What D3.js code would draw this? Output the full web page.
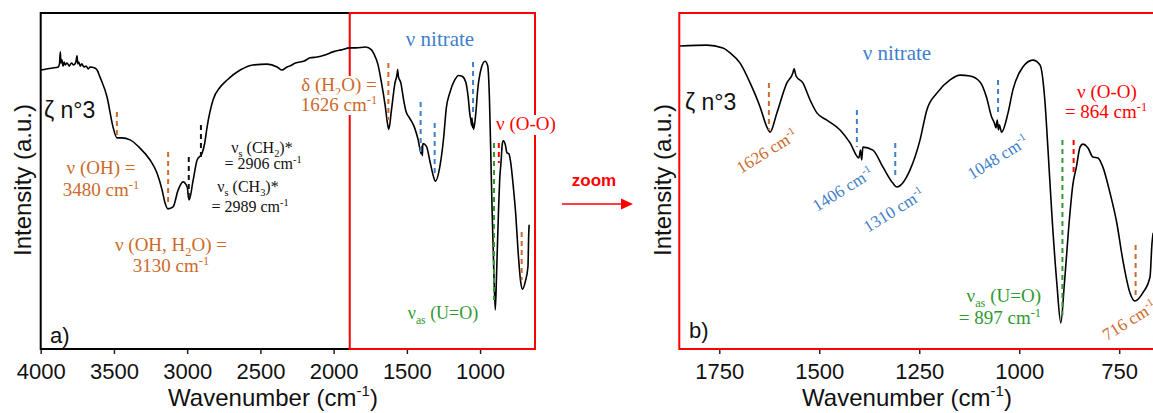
<!DOCTYPE html>
<html>
<head>
<meta charset="utf-8">
<script src="https://cdn.jsdelivr.net/npm/d3@7"></script>
<style>
  body { margin: 0; background: #fff; }
  svg { display: block; }
</style>
</head>
<body>
<div id="chart"></div>
<script>
// spectrum (wavenumber in cm-1, intensity in a.u.)
var wavenumber = [4000, 3960, 3920, 3880, 3872, 3866, 3862, 3855, 3848, 3840, 3832, 3820, 3805, 3790, 3775, 3760, 3752, 3747, 3740, 3730, 3720, 3705, 3690, 3675, 3663, 3630, 3615, 3595, 3547, 3506, 3479, 3445, 3390, 3322, 3253, 3206, 3171, 3151, 3131, 3096, 3062, 3028, 3000, 2987, 2959, 2932, 2898, 2880, 2864, 2823, 2774, 2727, 2638, 2550, 2454, 2386, 2352, 2318, 2300, 2260, 2200, 2160, 2113, 2060, 2004, 1950, 1887,
  1848, 1781, 1741, 1723, 1698, 1673, 1648, 1631, 1623, 1606, 1581, 1566, 1563, 1558, 1541, 1523, 1506, 1481, 1448, 1423, 1401, 1397, 1394, 1391, 1366, 1341, 1316, 1306, 1273, 1248, 1231, 1206, 1173, 1148, 1123, 1098, 1082, 1069, 1062, 1058, 1055, 1052, 1050, 1044, 1028, 1016, 991, 966, 948, 936, 928, 918, 906, 896, 887, 874, 866, 857, 848, 841, 828, 816, 803, 791, 773, 756, 741, 723, 711, 691, 673, 668, 665];
var intensity = [93.2, 93.6, 93.9, 94.3, 95.4, 99.6, 95.7, 96.8, 94.6, 96.0, 95.0, 95.7, 94.6, 95.7, 95.0, 96.0, 98.2, 95.4, 96.0, 94.6, 95.4, 94.3, 94.6, 93.6, 94.3, 93.9, 93.2, 90.7, 83.7, 73.1, 69.3, 69.3, 68.6, 65.7, 61.5, 56.9, 50.9, 46.4, 44.3, 45.0, 50.9, 53.8, 52.0, 47.4, 54.4, 61.5, 63.9, 67.5, 73.1, 82.7, 87.2, 89.7, 93.2, 95.0, 95.3, 94.3, 93.2, 94.3, 94.6, 95.7, 96.4, 97.5, 97.8, 98.5, 99.6, 100.3, 101.0,
  101.0, 101.3, 100.3, 98.7, 95.3, 88.7, 80.7, 74.0, 72.3, 78.7, 88.7, 92.0, 93.4, 91.0, 88.7, 83.0, 78.7, 76.3, 73.0, 68.7, 63.7, 66.3, 63.0, 67.3, 66.3, 60.7, 55.3, 54.0, 59.7, 69.7, 79.7, 85.3, 89.7, 91.3, 91.0, 89.0, 84.0, 77.3, 75.3, 73.7, 76.3, 73.0, 74.7, 72.3, 78.7, 86.3, 94.0, 96.3, 94.7, 83.0, 66.3, 44.0, 22.0, 8.7, 22.0, 44.0, 54.7, 60.7, 67.3, 68.3, 67.0, 64.0, 63.7, 60.7, 52.0, 42.0, 29.7, 18.7, 16.0, 18.7, 24.0, 35.3, 38.7];

var ticksLeft = [4000, 3500, 3000, 2500, 2000, 1500, 1000];
var ticksRight = [1750, 1500, 1250, 1000, 750];

var spectrum = wavenumber.map(function(w, i) { return { w: w, v: intensity[i] }; });

var W = 1153, H = 413;
var sans = "'Liberation Sans', Arial, sans-serif";
var serif = "'Liberation Serif', 'Times New Roman', serif";
var orange = "#cc6a2a", blue = "#3f7fcc", green = "#2f9a2f", red = "#ff0000";

var svg = d3.select("#chart").append("svg")
  .attr("width", W)
  .attr("height", H);

var plotTop = 13, plotBottom = 349;

// left panel a)
var xL = d3.scaleLinear().domain([4000, 625]).range([40.7, 535]);
var yL = d3.scaleLinear().domain([0, 113.3]).range([334.6, plotTop]);
// right panel b) zoom
var xR = d3.scaleLinear().domain([1850, 648]).range([679.3, 1160]);
var yR = d3.scaleLinear().domain([0, 112]).range([plotBottom, plotTop]);

var defs = svg.append("defs");
defs.append("clipPath").attr("id", "clipL").append("rect")
  .attr("x", xL.range()[0]).attr("y", plotTop).attr("width", xL.range()[1] - xL.range()[0]).attr("height", plotBottom - plotTop);
defs.append("clipPath").attr("id", "clipR").append("rect")
  .attr("x", xR.range()[0]).attr("y", plotTop).attr("width", xR.range()[1] - xR.range()[0]).attr("height", plotBottom - plotTop);

function drawAxis(x, ticks) {
  var g = svg.append("g")
    .attr("transform", "translate(0," + plotBottom + ")")
    .call(d3.axisBottom(x).tickValues(ticks).tickSize(5).tickPadding(9).tickFormat(d3.format("d")));
  g.select(".domain").remove();
  g.selectAll(".tick line").attr("stroke", "#222").attr("stroke-width", 1.5);
  g.selectAll(".tick text").attr("font-family", sans).attr("font-size", 22).attr("fill", "#111");
}
drawAxis(xL, ticksLeft);
drawAxis(xR, ticksRight);

// frames
var boxLeft = xL(1890);
svg.append("path")
  .attr("d", "M" + boxLeft + "," + plotTop + "H" + xL.range()[0] + "V" + plotBottom + "H" + boxLeft)
  .attr("fill", "none").attr("stroke", "#000").attr("stroke-width", 2);
svg.append("rect")
  .attr("x", boxLeft).attr("y", plotTop).attr("width", xL.range()[1] - boxLeft).attr("height", plotBottom - plotTop)
  .attr("fill", "none").attr("stroke", red).attr("stroke-width", 2);
svg.append("rect")
  .attr("x", xR.range()[0]).attr("y", plotTop).attr("width", 500).attr("height", plotBottom - plotTop)
  .attr("fill", "none").attr("stroke", red).attr("stroke-width", 2);

// axis titles
function title(x, y, rot, fs) {
  return svg.append("text")
    .attr("transform", "translate(" + x + "," + y + ")" + (rot ? " rotate(-90)" : ""))
    .attr("text-anchor", "middle")
    .attr("font-family", sans).attr("font-size", fs).attr("fill", "#111");
}
title(31, 180, true, 24).text("Intensity (a.u.)");
title(671, 180, true, 24).text("Intensity (a.u.)");
[273, 907].forEach(function(cx) {
  var t = title(cx, 406, false, 24);
  t.append("tspan").text("Wavenumber (cm");
  t.append("tspan").attr("dy", -10).attr("font-size", 15).text("-1");
  t.append("tspan").attr("dy", 10).text(")");
});

// rich text helper: parts are strings or [text, "sup"|"sub"]
function rich(parts, x, y, fs, color, anchor, family) {
  var t = svg.append("text")
    .attr("x", x).attr("y", y)
    .attr("font-family", family || serif).attr("font-size", fs)
    .attr("fill", color).attr("text-anchor", anchor || "middle");
  var shift = 0;
  parts.forEach(function(p) {
    var s = typeof p === "string" ? p : p[0];
    var kind = typeof p === "string" ? "" : p[1];
    var target = kind === "sup" ? -0.38 * fs : kind === "sub" ? 0.25 * fs : 0;
    var ts = t.append("tspan").text(s).attr("dy", target - shift);
    shift = target;
    if (kind) ts.attr("font-size", fs * 0.65);
  });
  return t;
}
function whiteBox(t) {
  var b = t.node().getBBox();
  svg.insert("rect", function() { return t.node(); })
    .attr("x", b.x - 1).attr("y", b.y + 2).attr("width", b.width + 2).attr("height", b.height - 2)
    .attr("fill", "#fff");
}

// labels crossing the red box get a white background
whiteBox(rich(["δ (H", ["2", "sub"], "O) ="], 339, 91, 19, orange));
whiteBox(rich(["1626 cm", ["-1", "sup"]], 339, 111, 19, orange));
whiteBox(rich(["ν (O-O)"], 526, 130, 19, red));

// spectra
var lineL = d3.line().x(function(d) { return xL(d.w); }).y(function(d) { return yL(d.v); }).curve(d3.curveMonotoneX);
var lineR = d3.line().x(function(d) { return xR(d.w); }).y(function(d) { return yR(d.v); }).curve(d3.curveMonotoneX);
svg.append("path").datum(spectrum).attr("clip-path", "url(#clipL)")
  .attr("d", lineL).attr("fill", "none").attr("stroke", "#000").attr("stroke-width", 1.6);
svg.append("path").datum(spectrum.filter(function(d) { return d.w <= 1860; })).attr("clip-path", "url(#clipR)")
  .attr("d", lineR).attr("fill", "none").attr("stroke", "#000").attr("stroke-width", 1.6);

// dashed peak markers
function mark(x, w, y1, y2, color) {
  svg.append("line")
    .attr("x1", x(w)).attr("x2", x(w)).attr("y1", y1).attr("y2", y2)
    .attr("stroke", color).attr("stroke-width", 2).attr("stroke-dasharray", "5,4");
}
mark(xL, 3480, 112, 137, orange);
mark(xL, 3130, 152, 203, orange);
mark(xL, 2989, 157, 200, "#111");
mark(xL, 2906, 125, 158, "#111");
mark(xL, 1626, 63, 120, orange);
mark(xL, 1406, 102, 153, blue);
mark(xL, 1310, 123, 177, blue);
mark(xL, 1048, 62, 112, blue);
mark(xL, 905, 143, 300, green);
mark(xL, 872, 143, 163, red);
mark(xL, 716, 232, 280, orange);

mark(xR, 1626, 83, 130, orange);
mark(xR, 1406, 110, 147, blue);
mark(xR, 1310, 143, 178, blue);
mark(xR, 1053, 80, 113, blue);
mark(xR, 892, 140, 315, green);
mark(xR, 864, 140, 176, red);
mark(xR, 709, 245, 297, orange);

// left panel annotations
rich(["ζ n°3"], 44, 118, 23, "#111", "start", sans);
rich(["a)"], 50, 343, 22, "#111", "start", sans);
rich(["ν (OH) ="], 101, 174, 19, orange);
rich(["3480 cm", ["-1", "sup"]], 101, 196, 19, orange);
rich(["ν (OH, H", ["2", "sub"], "O) ="], 171, 251, 19, orange);
rich(["3130 cm", ["-1", "sup"]], 171, 272, 19, orange);
rich(["ν", ["s", "sub"], " (CH", ["2", "sub"], ")*"], 262, 153, 16, "#111");
rich(["= 2906 cm", ["-1", "sup"]], 263, 169, 16, "#111");
rich(["ν", ["s", "sub"], " (CH", ["3", "sub"], ")*"], 248, 192, 16, "#111");
rich(["= 2989 cm", ["-1", "sup"]], 250, 212, 16, "#111");
rich(["ν nitrate"], 440, 46, 21, blue);
rich(["ν", ["as", "sub"], " (U=O)"], 443, 319, 18, green);

// zoom arrow
rich(["zoom"], 594, 186, 17, red, "middle", sans).attr("font-weight", "bold");
svg.append("line").attr("x1", 562).attr("x2", 622).attr("y1", 204).attr("y2", 204)
  .attr("stroke", red).attr("stroke-width", 1.5);
svg.append("path").attr("d", "M621,198.5 L633,204 L621,209.5 Z").attr("fill", red);

// right panel annotations
rich(["ζ n°3"], 685, 110, 23, "#111", "start", sans);
rich(["b)"], 689, 338, 22, "#111", "start", sans);
rich(["ν nitrate"], 897, 60, 21, blue);
rich(["ν (O-O)"], 1107, 98, 19, red);
rich(["= 864 cm", ["-1", "sup"]], 1106, 118, 19, red);
rich(["ν", ["as", "sub"], " (U=O)"], 1041, 302, 19, green, "end");
rich(["= 897 cm", ["-1", "sup"]], 1041, 324, 19, green, "end");

function rotLabel(text, x, y, color, anchor) {
  rich([text, ["-1", "sup"]], 0, 0, 17, color, anchor)
    .attr("transform", "translate(" + x + "," + y + ") rotate(-32)");
}
rotLabel("1626 cm", 770, 156, orange, "middle");
rotLabel("1406 cm", 846, 194, blue, "middle");
rotLabel("1310 cm", 897, 215, blue, "middle");
rotLabel("1048 cm", 1001, 162, blue, "middle");
rotLabel("716 cm", 1107, 341, orange, "start");
</script>
</body>
</html>
